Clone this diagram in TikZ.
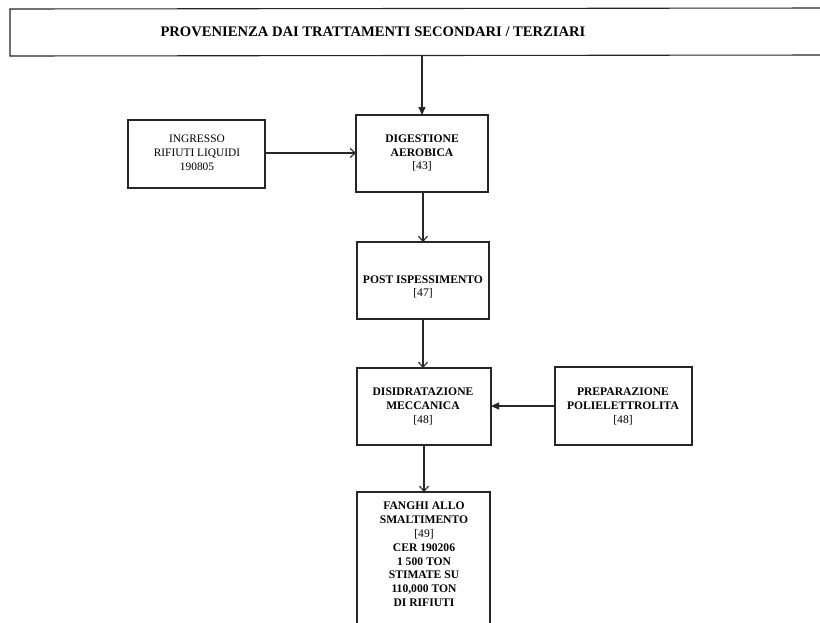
\documentclass[tikz,border=0pt]{standalone}
\usepackage{fontspec}
\setmainfont{Liberation Serif}
\usetikzlibrary{arrows.meta}
\tikzset{
  box/.style={draw=black!85, line width=1.1pt, fill=white},
  lbl/.style={align=center, font=\fontsize{11.6}{13.8}\selectfont\bfseries, inner sep=0pt},
  lblr/.style={align=center, font=\fontsize{11.4}{14.2}\selectfont, inner sep=0pt},
  flow/.style={draw=black!85, line width=1.1pt, -{Straight Barb[length=5pt,width=9pt,line width=1.1pt]}},
  flowf/.style={draw=black!85, line width=1.1pt, -{Triangle[length=8pt,width=7pt]}}
}
\begin{document}
\begin{tikzpicture}[x=1pt,y=-1pt]
  \useasboundingbox (0,0) rectangle (820,622);
  \fill[white] (0,0) rectangle (820,622);

  % source box running off the right edge
  \draw[box] (830,8) -- (10,9) -- (10,56) -- (830,55);
  \node[lbl, font=\fontsize{14.6}{16}\selectfont\bfseries] (src) at (373,32) {PROVENIENZA DAI TRATTAMENTI SECONDARI / TERZIARI};
  \coordinate (srcout) at (422,55.5);

  % process boxes
  \draw[box] (128,120) rectangle (265,188);
  \node[lblr] (ing) at (197,153) {INGRESSO\\RIFIUTI LIQUIDI\\190805};
  \coordinate (ingE) at (265,153);

  \draw[box] (356,115) rectangle (488,192);
  \node[lbl] (dig) at (422,153) {DIGESTIONE\\AEROBICA\\{\mdseries[43]}};
  \coordinate (digN) at (422,115);
  \coordinate (digW) at (356,153);
  \coordinate (digS) at (423,192);

  \draw[box] (357,242) rectangle (489,319);
  \node[lbl] (post) at (423,287) {POST ISPESSIMENTO\\{\mdseries[47]}};
  \coordinate (postN) at (423,242);
  \coordinate (postS) at (423,319);

  \draw[box] (357,368) rectangle (491,445);
  \node[lbl] (dis) at (423,406.5) {DISIDRATAZIONE\\MECCANICA\\{\mdseries[48]}};
  \coordinate (disN) at (423,368);
  \coordinate (disE) at (491,406);
  \coordinate (disS) at (424,445);

  \draw[box] (555,367) rectangle (692,445);
  \node[lbl] (prep) at (623,406.5) {PREPARAZIONE\\POLIELETTROLITA\\{\mdseries[48]}};
  \coordinate (prepW) at (555,406);

  \draw[box] (357,640) -- (357,492) -- (490,492) -- (490,640);
  \node[lbl, anchor=north] (fan) at (424,502) {FANGHI ALLO\\SMALTIMENTO\\{\mdseries[49]}\\CER 190206\\1 500 TON\\STIMATE SU\\110,000 TON\\DI RIFIUTI};
  \coordinate (fanN) at (424,492);

  % connectors
  \draw[flowf] (srcout) -- (digN);
  \draw[flow] (ingE) -- (digW);
  \draw[flow] (digS) -- (postN);
  \draw[flow] (postS) -- (disN);
  \draw[flowf] (prepW) -- (disE);
  \draw[flow] (disS) -- (fanN);
\end{tikzpicture}
\end{document}
